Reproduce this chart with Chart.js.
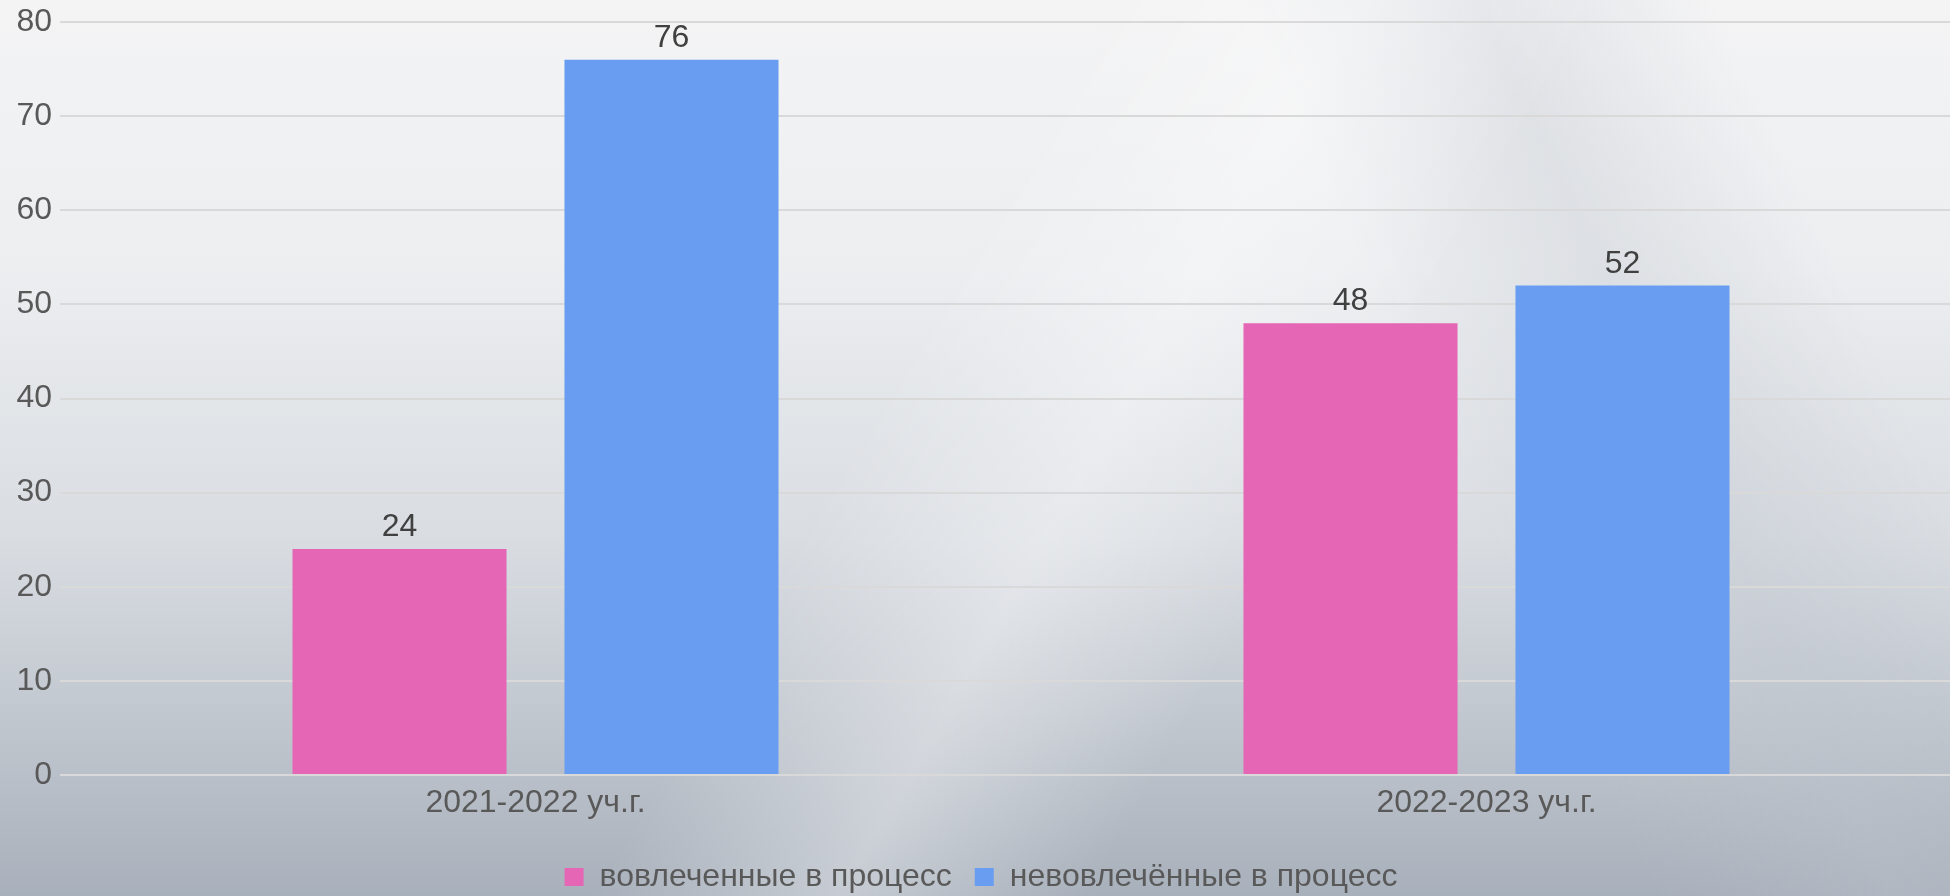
<!DOCTYPE html>
<html lang="ru">
<head>
<meta charset="utf-8">
<title>Вовлеченность в процесс</title>
<script src="https://cdn.jsdelivr.net/npm/chart.js@4"></script>
<style>
  html, body {
    margin: 0;
    padding: 0;
    overflow: hidden;
  }
  body {
    width: 1950px;
    height: 896px;
    background:
      linear-gradient(120deg, rgba(255,255,255,0) 45%, rgba(255,255,255,0.35) 55%, rgba(255,255,255,0) 65%),
      linear-gradient(65deg, rgba(255,255,255,0) 70%, rgba(190,196,205,0.35) 80%, rgba(255,255,255,0) 90%),
      linear-gradient(to bottom, #f4f4f5 0%, #eceef0 30%, #d9dde2 60%, #bfc5cd 82%, #a8b0bb 100%);
  }
  .wrap {
    position: absolute;
    left: 0;
    top: 0;
    width: 1962px;
    height: 896px;
  }
</style>
</head>
<body>
<div class="wrap"><canvas id="engagementChart"></canvas></div>
<script>
// данные
const years = ["2021-2022 уч.г.", "2022-2023 уч.г."];
const involved = [24, 48];
const notInvolved = [76, 52];
const seriesNames = ["вовлеченные в процесс", "невовлечённые в процесс"];
const yTicks = [0, 10, 20, 30, 40, 50, 60, 70, 80];

Chart.defaults.font.family = "'Liberation Sans', Arial, sans-serif";
Chart.defaults.font.size = 32;
Chart.defaults.color = "#595959";

// подписи значений над столбцами
const valueLabels = {
  id: "valueLabels",
  afterDatasetsDraw(chart) {
    const ctx = chart.ctx;
    ctx.save();
    ctx.font = "32px 'Liberation Sans', Arial, sans-serif";
    ctx.fillStyle = "#404040";
    ctx.textAlign = "center";
    ctx.textBaseline = "alphabetic";
    chart.data.datasets.forEach((ds, i) => {
      chart.getDatasetMeta(i).data.forEach((bar, j) => {
        ctx.fillText(String(ds.data[j]), bar.x, bar.y - 13);
      });
    });
    ctx.restore();
  },
};

const ctx = document.getElementById("engagementChart").getContext("2d");
const chart = new Chart(ctx, {
  type: "bar",
  data: {
    labels: years,
    datasets: [
      {
        label: seriesNames[0],
        data: involved,
        backgroundColor: "#e466b5",
        categoryPercentage: 0.572,
        barPercentage: 0.787,
      },
      {
        label: seriesNames[1],
        data: notInvolved,
        backgroundColor: "#699df1",
        categoryPercentage: 0.572,
        barPercentage: 0.787,
      },
    ],
  },
  options: {
    responsive: true,
    maintainAspectRatio: false,
    animation: false,
    layout: {
      padding: { top: 22, bottom: -7, left: 0, right: 0 },
    },
    scales: {
      x: {
        grid: { display: false, drawTicks: false },
        border: { display: false },
        ticks: { padding: 9, color: "#595959" },
        afterFit: (scale) => {
          scale.height = 63;
        },
      },
      y: {
        min: 0,
        max: 80,
        afterBuildTicks: (scale) => {
          scale.ticks = yTicks.map((v) => ({ value: v }));
        },
        afterFit: (scale) => {
          scale.width = 60;
          scale.paddingTop = 0;
          scale.paddingBottom = 0;
        },
        grid: { color: "#d9d9d9", lineWidth: 2, drawTicks: false },
        border: { display: false },
        ticks: { padding: 8, color: "#595959" },
      },
    },
    plugins: {
      legend: {
        position: "bottom",
        labels: {
          boxWidth: 19,
          boxHeight: 18,
          padding: 23,
          color: "#595959",
        },
      },
      tooltip: { enabled: false },
    },
  },
  plugins: [valueLabels],
});
</script>
</body>
</html>
